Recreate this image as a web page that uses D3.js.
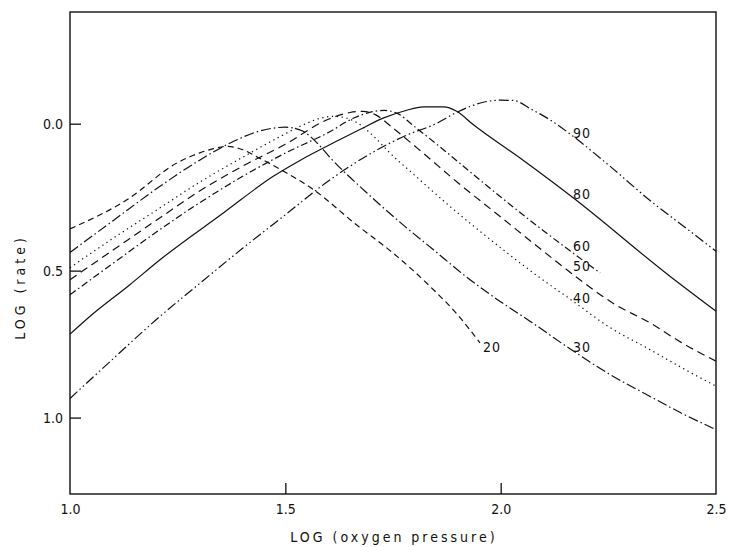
<!DOCTYPE html>
<html>
<head>
<meta charset="utf-8">
<script src="https://cdn.jsdelivr.net/npm/d3@7"></script>
<style>
  html, body { margin: 0; padding: 0; background: #fff; }
  svg { display: block; }
  text { font-family: "DejaVu Sans Condensed", "Liberation Sans Narrow", "DejaVu Sans", sans-serif; fill: #111; }
</style>
</head>
<body>
<svg id="chart" width="729" height="547"></svg>
<script>
// ---- data (x = LOG oxygen pressure, y = LOG rate) ----
const xTicks = [1.0, 1.5, 2.0, 2.5];
const yTicks = [0.0, 0.5, 1.0];
const seriesNames = ["20", "30", "40", "50", "60", "80", "90"];

const s20 = [[1.0,0.358],[1.132,0.259],[1.248,0.134],[1.30,0.10],[1.333,0.085],[1.365,0.077],[1.40,0.088],[1.441,0.118],[1.50,0.165],[1.565,0.224],[1.666,0.345],[1.75,0.44],[1.844,0.565],[1.90,0.65],[1.952,0.746]];
const s30 = [[1.0,0.438],[1.1,0.33],[1.209,0.213],[1.30,0.125],[1.38,0.06],[1.44,0.025],[1.50,0.012],[1.54,0.025],[1.57,0.06],[1.607,0.12],[1.689,0.235],[1.766,0.335],[1.844,0.429],[1.921,0.522],[1.998,0.604],[2.068,0.672],[2.16,0.765],[2.25,0.85],[2.347,0.928],[2.42,0.985],[2.5,1.041]];
const s40 = [[1.0,0.49],[1.1,0.39],[1.2,0.295],[1.3,0.20],[1.4,0.115],[1.48,0.05],[1.54,0.005],[1.58,-0.018],[1.61,-0.025],[1.64,-0.02],[1.67,0.0],[1.71,0.05],[1.743,0.10],[1.80,0.175],[1.882,0.281],[1.998,0.42],[2.076,0.508],[2.169,0.605],[2.25,0.69],[2.347,0.769],[2.42,0.83],[2.5,0.893]];
const s50 = [[1.0,0.531],[1.1,0.43],[1.209,0.32],[1.3,0.23],[1.4,0.145],[1.5,0.07],[1.60,-0.015],[1.65,-0.038],[1.68,-0.042],[1.71,-0.03],[1.75,0.015],[1.82,0.10],[1.90,0.20],[1.998,0.315],[2.10,0.435],[2.184,0.531],[2.26,0.61],[2.347,0.678],[2.42,0.745],[2.5,0.808]];
const s60 = [[1.0,0.582],[1.1,0.475],[1.209,0.36],[1.3,0.27],[1.4,0.18],[1.5,0.10],[1.6,0.03],[1.66,-0.02],[1.70,-0.04],[1.73,-0.045],[1.76,-0.035],[1.80,0.01],[1.86,0.08],[1.93,0.165],[1.998,0.247],[2.10,0.365],[2.231,0.508]];
const s80 = [[1.0,0.716],[1.042,0.661],[1.139,0.548],[1.209,0.463],[1.356,0.304],[1.472,0.179],[1.534,0.125],[1.627,0.054],[1.673,0.02],[1.727,-0.019],[1.78,-0.045],[1.82,-0.057],[1.867,-0.057],[1.898,-0.042],[1.936,0.003],[2.045,0.117],[2.169,0.253],[2.393,0.519],[2.5,0.638]];
const s90 = [[1.0,0.935],[1.1,0.80],[1.2,0.667],[1.3,0.545],[1.4,0.425],[1.5,0.31],[1.6,0.195],[1.7,0.10],[1.78,0.04],[1.85,0.0],[1.9,-0.04],[1.96,-0.073],[2.0,-0.08],[2.03,-0.079],[2.07,-0.05],[2.12,-0.008],[2.17,0.045],[2.25,0.14],[2.35,0.265],[2.43,0.355],[2.5,0.434]];

// label anchor positions (data coords)
const labelX = [1.959, 2.168, 2.168, 2.168, 2.168, 2.168, 2.168];
const labelY = [0.759, 0.759, 0.595, 0.483, 0.418, 0.238, 0.031];

const seriesData = [s20, s30, s40, s50, s60, s80, s90];
const dashes = ["6,4", "10,3,1.5,3", "1.3,3.6", "8,5", "7,3,1.5,3", null, "10,3,1.5,3,1.5,3"];

// ---- layout ----
const svg = d3.select("#chart");
const plotL = 70, plotR = 716, plotT = 12, plotB = 494;
const fontStack = "'DejaVu Sans Condensed', 'Liberation Sans Narrow', 'DejaVu Sans', sans-serif";

const x = d3.scaleLinear().domain([1.0, 2.5]).range([plotL, plotR]);
const y = d3.scaleLinear().domain([-0.38, 1.26]).range([plotT, plotB]);

// frame
svg.append("rect")
  .attr("x", plotL).attr("y", plotT)
  .attr("width", plotR - plotL).attr("height", plotB - plotT)
  .attr("fill", "none").attr("stroke", "#111").attr("stroke-width", 1.4);

// x axis (ticks pointing inward)
const xAxis = d3.axisBottom(x).tickValues(xTicks).tickFormat(d3.format(".1f")).tickSizeInner(-11).tickSizeOuter(0);
const gx = svg.append("g").attr("transform", `translate(0,${plotB})`).call(xAxis);
gx.select(".domain").remove();
gx.selectAll(".tick line").attr("stroke", "#111").attr("stroke-width", 1.3)
  .filter(d => d === 1.0 || d === 2.5).remove();
gx.selectAll(".tick text").attr("font-size", 14).attr("dy", "0").attr("y", 20)
  .style("font-family", fontStack).attr("fill", "#111");

// y axis (ticks pointing inward)
const yAxis = d3.axisLeft(y).tickValues(yTicks).tickFormat(d3.format(".1f")).tickSizeInner(-11).tickSizeOuter(0);
const gy = svg.append("g").attr("transform", `translate(${plotL},0)`).call(yAxis);
gy.select(".domain").remove();
gy.selectAll(".tick line").attr("stroke", "#111").attr("stroke-width", 1.3);
gy.selectAll(".tick text").attr("font-size", 14).attr("x", -7)
  .style("font-family", fontStack).attr("fill", "#111");

// curves
const line = d3.line().x(d => x(d[0])).y(d => y(d[1])).curve(d3.curveMonotoneX);
seriesData.forEach((s, i) => {
  const p = svg.append("path")
    .datum(s)
    .attr("d", line)
    .attr("fill", "none")
    .attr("stroke", "#111")
    .attr("stroke-width", 1.2);
  if (dashes[i]) p.attr("stroke-dasharray", dashes[i]);
});

// curve labels
seriesNames.forEach((n, i) => {
  svg.append("text")
    .attr("x", x(labelX[i])).attr("y", y(labelY[i]))
    .attr("dy", "0.35em")
    .attr("font-size", 14)
    .attr("letter-spacing", "1px")
    .text(n);
});

// axis titles
svg.append("text")
  .attr("x", 394).attr("y", 542)
  .attr("text-anchor", "middle")
  .attr("font-size", 14)
  .attr("letter-spacing", "3px")
  .text("LOG (oxygen pressure)");

svg.append("text")
  .attr("transform", "translate(25,287) rotate(-90)")
  .attr("text-anchor", "middle")
  .attr("font-size", 14)
  .attr("letter-spacing", "4px")
  .text("LOG (rate)");
</script>
</body>
</html>
